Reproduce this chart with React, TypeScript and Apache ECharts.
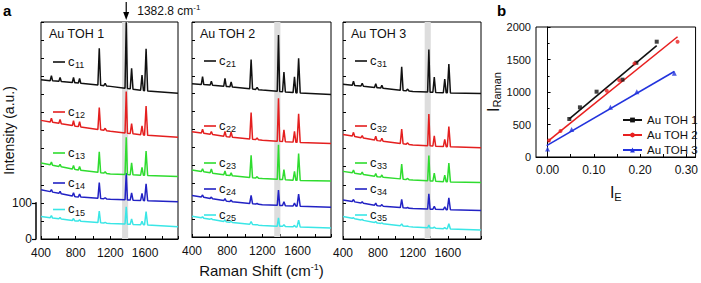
import React, { useEffect, useRef } from 'react';
import * as echarts from 'echarts';

// ---------- data: panel a (Raman spectra) ----------
const panelTitles = ['Au TOH 1', 'Au TOH 2', 'Au TOH 3'];
const spectrumLabels = [
  ['11', '12', '13', '14', '15'],
  ['21', '22', '23', '24', '25'],
  ['31', '32', '33', '34', '35'],
];
const xTickLabels = [400, 800, 1200, 1600];
const markedShift = 1382.8;
const bandRange = [1335, 1405];
const scaleBarValues = [0, 100];

// Peak positions (cm-1) and half widths at base
const peakPositions = [520, 620, 775, 845, 1072, 1140, 1383, 1445, 1565, 1612];
const peakHalfWidths = [14, 14, 14, 14, 16, 16, 14, 16, 16, 18];

// Baseline levels at these Raman shifts
const baselineAnchors = [400, 800, 1200, 1600, 1980];

const baselinesP1 = [
  [440, 432, 422, 410, 403],
  [328, 312, 298, 287, 281],
  [210, 192, 180, 176, 173],
  [136, 117, 110, 106, 103],
  [62, 50, 43, 39, 34],
];
const baselinesP2 = [
  [428, 420, 410, 402, 398],
  [294, 280, 270, 264, 261],
  [187, 172, 163, 158, 156],
  [116, 100, 90, 86, 83],
  [58, 42, 32, 28, 25],
];
const baselinesP3 = [
  [428, 418, 408, 404, 402],
  [289, 272, 260, 255, 252],
  [187, 172, 163, 158, 156],
  [108, 92, 84, 81, 79],
  [62, 44, 33, 28, 25],
];

// Peak heights above baseline, one column per peak position
const heightsP1 = [
  [14, 11, 14, 13, 102, 7, 183, 57, 42, 116],
  [11, 11, 14, 14, 61, 6, 115, 28, 25, 81],
  [8, 6, 10, 10, 57, 4, 103, 33, 22, 67],
  [6, 6, 10, 8, 44, 3, 74, 20, 20, 47],
  [6, 4, 6, 4, 32, 2, 48, 15, 10, 37],
];
const heightsP2 = [
  [22, 11, 22, 14, 82, 6, 157, 55, 44, 97],
  [11, 8, 14, 14, 74, 5, 120, 33, 30, 80],
  [8, 11, 11, 8, 62, 4, 97, 28, 25, 75],
  [6, 4, 6, 4, 23, 2, 43, 11, 8, 34],
  [3, 2, 5, 3, 8, 1, 23, 5, 4, 19],
];
const heightsP3 = [
  [11, 8, 11, 8, 65, 5, 118, 42, 38, 80],
  [11, 6, 11, 8, 40, 4, 88, 28, 20, 56],
  [8, 6, 8, 6, 41, 3, 70, 22, 18, 52],
  [6, 4, 6, 4, 23, 2, 42, 8, 8, 33],
  [2, 2, 3, 2, 5, 1, 8, 3, 3, 14],
];

// ---------- data: panel b ----------
const seriesNamesB = ['Au TOH 1', 'Au TOH 2', 'Au TOH 3'];
const iE1 = [0.047, 0.07, 0.106, 0.162, 0.192, 0.236];
const iRaman1 = [585, 764, 1005, 1190, 1450, 1774];
const iE2 = [0.003, 0.028, 0.128, 0.155, 0.188, 0.281];
const iRaman2 = [255, 400, 1020, 1180, 1440, 1774];
const iE3 = [0.0, 0.052, 0.136, 0.193, 0.274];
const iRaman3 = [125, 425, 764, 1005, 1287];
const fitIE1 = [0.047, 0.236];
const fitRaman1 = [585, 1712];
const fitIE2 = [0.003, 0.281];
const fitRaman2 = [255, 1850];
const fitIE3 = [-0.002, 0.274];
const fitRaman3 = [175, 1315];
const bXLabels = [0, 0.1, 0.2, 0.3];
const bXTicks = [0, 0.05, 0.1, 0.15, 0.2, 0.25, 0.3];

// ---------- styles / layout ----------
const FONT = 'Liberation Sans, Arial, sans-serif';
const spectrumColors = ['#111111', '#e41f1f', '#2fdc2f', '#2222c4', '#3ae6e6'];
const bColors = ['#111111', '#e82020', '#2233dd'];
const bSymbols = ['rect', 'circle', 'triangle'];
const panels = [
  { left: 41, width: 137 },
  { left: 192, width: 139 },
  { left: 343, width: 138 },
];
const PANEL_TOP = 22;
const PANEL_H = 217;
const Y_MAX = 600;
const legendRowsY = [
  [62, 112, 153, 183, 209.5],
  [61, 126, 163, 189, 215],
  [61, 126, 163, 189, 215],
];

function baseAt(b: number[], x: number) {
  for (let i = 0; i < baselineAnchors.length - 1; i++) {
    const x0 = baselineAnchors[i];
    const x1 = baselineAnchors[i + 1];
    if (x >= x0 && x <= x1) {
      return b[i] + ((b[i + 1] - b[i]) * (x - x0)) / (x1 - x0);
    }
  }
  return x < baselineAnchors[0] ? b[0] : b[b.length - 1];
}

function buildSpectrum(b: number[], h: number[]) {
  const pts: number[][] = baselineAnchors.map((x, i) => [x, b[i]]);
  peakPositions.forEach((p, k) => {
    const w = peakHalfWidths[k];
    pts.push([p - w, baseAt(b, p - w)]);
    pts.push([p, baseAt(b, p) + h[k]]);
    pts.push([p + w, baseAt(b, p + w)]);
  });
  pts.sort((a, c) => a[0] - c[0]);
  return pts;
}

export default function App() {
  const ref = useRef<HTMLDivElement>(null);
  useEffect(() => {
    const chart = echarts.init(ref.current!, null, { renderer: 'svg' });
    const baselines = [baselinesP1, baselinesP2, baselinesP3];
    const heights = [heightsP1, heightsP2, heightsP3];

    const grid: any[] = [];
    const xAxis: any[] = [];
    const yAxis: any[] = [];
    const series: any[] = [];

    panels.forEach((p, i) => {
      grid.push({
        left: p.left,
        top: PANEL_TOP,
        width: p.width,
        height: PANEL_H,
        show: true,
        borderColor: '#000',
        borderWidth: 1,
        backgroundColor: 'transparent',
      });
      xAxis.push({
        type: 'value',
        gridIndex: i,
        min: 400,
        max: 1980,
        interval: 200,
        axisLine: { show: true, lineStyle: { color: '#000', width: 1 } },
        axisTick: { show: true, inside: true, length: 3, lineStyle: { color: '#000' } },
        axisLabel: {
          color: '#111',
          fontSize: 12,
          fontFamily: FONT,
          margin: 8,
          formatter: (v: number) => (xTickLabels.includes(v) ? String(v) : ''),
        },
        splitLine: { show: false },
        ...(i === 1
          ? {
              name: 'Raman Shift (cm{sup|-1})',
              nameLocation: 'middle',
              nameGap: 25,
              nameTextStyle: {
                fontSize: 15,
                fontFamily: FONT,
                color: '#111',
                rich: {
                  sup: { fontSize: 9, verticalAlign: 'top', fontFamily: FONT, color: '#111', padding: [0, 0, 8, 0] },
                },
              },
            }
          : {}),
      });
      yAxis.push({
        type: 'value',
        gridIndex: i,
        min: 0,
        max: Y_MAX,
        interval: 50,
        axisLine: { show: false },
        axisTick: { show: true, inside: true, length: 3, lineStyle: { color: '#000' } },
        axisLabel: { show: false },
        splitLine: { show: false },
        ...(i === 0
          ? {
              name: 'Intensity (a.u.)',
              nameLocation: 'middle',
              nameGap: 25,
              nameTextStyle: { fontSize: 14, fontFamily: FONT, color: '#111' },
            }
          : {}),
      });
      // gray band
      series.push({
        type: 'line',
        xAxisIndex: i,
        yAxisIndex: i,
        data: [],
        silent: true,
        z: 1,
        markArea: {
          silent: true,
          itemStyle: { color: '#dddddd' },
          data: [[{ xAxis: bandRange[0] }, { xAxis: bandRange[1] }]],
        },
      });
      baselines[i].forEach((b, j) => {
        series.push({
          type: 'line',
          xAxisIndex: i,
          yAxisIndex: i,
          data: buildSpectrum(b, heights[i][j]),
          showSymbol: false,
          symbol: 'none',
          silent: true,
          z: 3 + (4 - j),
          lineStyle: { color: spectrumColors[j], width: 1.5 },
        });
      });
    });

    // scale bar grid (index 3)
    const barH = (PANEL_H * scaleBarValues[1]) / Y_MAX;
    grid.push({ left: 36, top: PANEL_TOP + PANEL_H - barH, width: 1, height: barH });
    xAxis.push({ type: 'value', gridIndex: 3, show: false, min: 0, max: 1 });
    yAxis.push({
      type: 'value',
      gridIndex: 3,
      min: scaleBarValues[0],
      max: scaleBarValues[1],
      interval: scaleBarValues[1],
      axisLine: { show: true, lineStyle: { color: '#000', width: 1.5 } },
      axisTick: { show: true, inside: false, length: 4, lineStyle: { color: '#000', width: 1.2 } },
      axisLabel: { color: '#111', fontSize: 12, fontFamily: FONT, margin: 4 },
      splitLine: { show: false },
    });
    series.push({ type: 'line', xAxisIndex: 3, yAxisIndex: 3, data: [] });

    // panel b grid (index 4)
    grid.push({
      left: 536,
      top: 27,
      width: 163,
      height: 130,
      show: true,
      borderColor: '#000',
      borderWidth: 1,
      backgroundColor: 'transparent',
    });
    xAxis.push({
      type: 'value',
      gridIndex: 4,
      min: -0.025,
      max: 0.32,
      axisLine: { show: true, lineStyle: { color: '#000' } },
      axisTick: { show: true, inside: true, length: 3, customValues: bXTicks, lineStyle: { color: '#000' } },
      axisLabel: {
        color: '#111',
        fontSize: 12,
        fontFamily: FONT,
        margin: 7,
        customValues: bXLabels,
        formatter: (v: number) => v.toFixed(2),
      },
      splitLine: { show: false },
      name: '{i|I}{s|E}',
      nameLocation: 'middle',
      nameGap: 26,
      nameTextStyle: {
        color: '#111',
        rich: {
          i: { fontSize: 16, fontFamily: FONT, color: '#111' },
          s: { fontSize: 11, fontFamily: FONT, color: '#111', verticalAlign: 'bottom', padding: [8, 0, 0, 0] },
        },
      },
    });
    yAxis.push({
      type: 'value',
      gridIndex: 4,
      min: 0,
      max: 2000,
      interval: 500,
      axisLine: { show: true, lineStyle: { color: '#000' } },
      axisTick: { show: true, inside: true, length: 3, lineStyle: { color: '#000' } },
      minorTick: { show: true, splitNumber: 2, length: 2, lineStyle: { color: '#000' } },
      axisLabel: {
        color: '#111',
        fontSize: 11,
        fontFamily: FONT,
        margin: 5,
        formatter: (v: number) => String(v),
      },
      splitLine: { show: false },
      name: '{i|I}{s|Raman}',
      nameLocation: 'middle',
      nameGap: 32,
      nameTextStyle: {
        color: '#111',
        rich: {
          i: { fontSize: 16, fontFamily: FONT, color: '#111' },
          s: { fontSize: 11, fontFamily: FONT, color: '#111', verticalAlign: 'bottom', padding: [8, 0, 0, 0] },
        },
      },
    });
    const ptsB = [
      [iE1, iRaman1],
      [iE2, iRaman2],
      [iE3, iRaman3],
    ];
    const fitsB = [
      [fitIE1, fitRaman1],
      [fitIE2, fitRaman2],
      [fitIE3, fitRaman3],
    ];
    seriesNamesB.forEach((name, k) => {
      series.push({
        type: 'line',
        name,
        xAxisIndex: 4,
        yAxisIndex: 4,
        data: fitsB[k][0].map((x, n) => [x, fitsB[k][1][n]]),
        symbol: bSymbols[k],
        symbolSize: 5,
        showSymbol: false,
        itemStyle: { color: bColors[k] },
        lineStyle: { color: bColors[k], width: 1.6 },
        z: 3,
      });
    });
    seriesNamesB.forEach((name, k) => {
      series.push({
        type: 'scatter',
        name,
        xAxisIndex: 4,
        yAxisIndex: 4,
        data: ptsB[k][0].map((x, n) => [x, ptsB[k][1][n]]),
        symbol: bSymbols[k],
        symbolSize: k === 2 ? 5 : 4,
        itemStyle: { color: bColors[k] },
        z: 4,
      });
    });

    chart.setOption({
      animation: false,
      backgroundColor: '#fff',
      textStyle: { fontFamily: FONT },
      grid,
      xAxis,
      yAxis,
      series,
      legend: {
        data: seriesNamesB,
        orient: 'vertical',
        left: 622,
        top: 114,
        itemWidth: 19,
        itemHeight: 6,
        itemGap: 3,
        padding: 0,
        selectedMode: false,
        textStyle: { fontSize: 11.5, fontFamily: FONT, color: '#111' },
      },
    });

    // annotations
    const graphics: any[] = [];
    const arrowX = chart.convertToPixel({ xAxisIndex: 0 }, markedShift) as number;
    graphics.push({
      type: 'line',
      shape: { x1: arrowX, y1: 2, x2: arrowX, y2: 14 },
      style: { stroke: '#000', lineWidth: 1.2 },
    });
    graphics.push({
      type: 'polygon',
      shape: { points: [[arrowX - 3, 12], [arrowX + 3, 12], [arrowX, 20]] },
      style: { fill: '#000' },
    });
    graphics.push({
      type: 'text',
      x: arrowX + 11,
      y: 11,
      style: {
        text: '1382.8 cm{sup|-1}',
        fontSize: 12,
        fontFamily: FONT,
        fill: '#111',
        verticalAlign: 'middle',
        rich: { sup: { fontSize: 8, fontFamily: FONT, fill: '#111', padding: [0, 0, 8, 0] } },
      },
    });
    graphics.push({
      type: 'text',
      x: 3,
      y: 3,
      style: { text: 'a', fontSize: 15, fontWeight: 'bold', fontFamily: FONT, fill: '#000' },
    });
    graphics.push({
      type: 'text',
      x: 497,
      y: 3,
      style: { text: 'b', fontSize: 15, fontWeight: 'bold', fontFamily: FONT, fill: '#000' },
    });
    panels.forEach((p, i) => {
      graphics.push({
        type: 'text',
        x: p.left + 8,
        y: 34,
        style: {
          text: panelTitles[i],
          fontSize: 12.5,
          fontFamily: FONT,
          fill: '#111',
          verticalAlign: 'middle',
        },
      });
      spectrumLabels[i].forEach((lab, j) => {
        const y = legendRowsY[i][j];
        graphics.push({
          type: 'line',
          shape: { x1: p.left + 12, y1: y, x2: p.left + 24, y2: y },
          style: { stroke: spectrumColors[j], lineWidth: 1.6 },
        });
        graphics.push({
          type: 'text',
          x: p.left + 27,
          y: y - 1,
          style: { text: 'c', fontSize: 13, fontFamily: FONT, fill: '#111', verticalAlign: 'middle' },
        });
        graphics.push({
          type: 'text',
          x: p.left + 34,
          y: y + 3,
          style: { text: lab, fontSize: 9, fontFamily: FONT, fill: '#111', verticalAlign: 'middle' },
        });
      });
    });
    chart.setOption({ graphic: graphics });

    return () => chart.dispose();
  }, []);
  return <div ref={ref} style={{ position: 'absolute', left: 0, top: 0, width: 701, height: 283 }} />;
}
